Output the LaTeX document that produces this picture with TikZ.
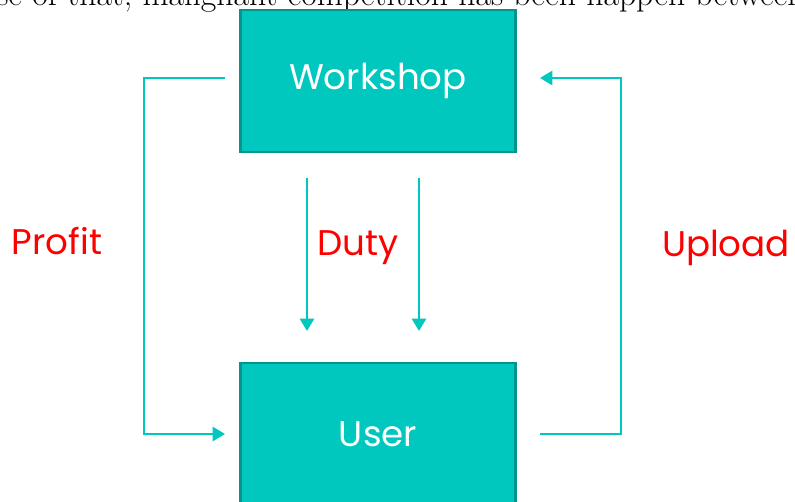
\documentclass[tikz,border=0pt]{standalone}
\usepackage{fontspec}
\newfontfamily\boxfont{Poppins}
\usetikzlibrary{arrows.meta}

\definecolor{boxteal}{HTML}{00C8BE}
\definecolor{edgeteal}{HTML}{00968C}
\definecolor{tagred}{HTML}{FF0000}

\tikzset{
  block/.style={draw=edgeteal, fill=boxteal, line width=1.5pt,
    minimum width=5.5cm, minimum height=2.84cm, inner sep=0pt,
    text=white, font=\boxfont\fontsize{20.3}{24}\selectfont},
  link/.style={draw=boxteal, line width=1.4pt,
    -{Triangle[length=7pt,width=8pt]}},
  tag/.style={text=tagred, font=\boxfont\fontsize{20.3}{24}\selectfont}
}

\begin{document}
\begin{tikzpicture}[x=0.02cm, y=-0.02cm]

\useasboundingbox (0,0) rectangle (795,502);
\clip (0,0) rectangle (795,502);

% line of body text running above the figure
\node[anchor=base west, inner sep=0pt, font=\fontsize{19.2}{22}\selectfont] (intro) at (-4,6)
  {se of that, malignant competition has been happen between};

\node[block] (ws) at (378,81) {Workshop};
\node[block] (usr) at (378,434) {User};

% loose ends of the side loops
\coordinate (wl) at (225,78);
\coordinate (ul) at (225,434);
\coordinate (ur) at (540,434);
\coordinate (wr) at (540,78);

\draw[link] (wl) -- (144,78) -- (144,434) -- (ul);
\draw[link] (ur) -- (621,434) -- (621,78) -- (wr);

% duty arrows
\coordinate (d1) at (307,178);
\coordinate (d2) at (419,178);
\coordinate (e1) at (307,331);
\coordinate (e2) at (419,331);
\draw[link] (d1) -- (e1);
\draw[link] (d2) -- (e2);

\node[tag] (profit) at (57,241) {Profit};
\node[tag] (duty) at (358,248) {Duty};
\node[tag] (upload) at (726,248) {Upload};

\end{tikzpicture}
\end{document}
